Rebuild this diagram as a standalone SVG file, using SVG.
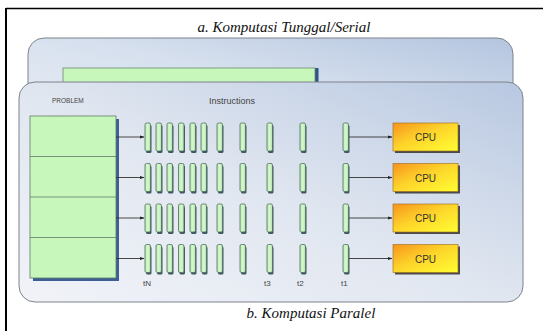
<svg xmlns="http://www.w3.org/2000/svg" xmlns:xlink="http://www.w3.org/1999/xlink" width="543" height="331" viewBox="0 0 543 331">
  <style>
    .title { font-family: "Liberation Serif", "Times New Roman", serif; font-style: italic; font-size: 15px; fill: #111; }
    .small { font-family: "Liberation Sans", Arial, sans-serif; fill: #444; }
    .cpu-text { font-family: "Liberation Sans", Arial, sans-serif; font-size: 10px; fill: #333; }
    .panel { stroke: #7d828c; stroke-width: 1; }
    .conn { stroke: #333; stroke-width: 0.9; fill: none; }
  </style>
  <defs>
    <linearGradient id="panelA" x1="0" y1="1" x2="1" y2="0">
      <stop offset="0" stop-color="#eef1f7"/>
      <stop offset="0.55" stop-color="#d6e0ee"/>
      <stop offset="1" stop-color="#b4c5df"/>
    </linearGradient>
    <linearGradient id="panelB" x1="0" y1="1" x2="1" y2="0">
      <stop offset="0" stop-color="#f1f3f8"/>
      <stop offset="0.5" stop-color="#e0e6f0"/>
      <stop offset="1" stop-color="#b8c8e1"/>
    </linearGradient>
    <linearGradient id="cpuFill" x1="0" y1="0" x2="1" y2="1">
      <stop offset="0" stop-color="#f7941d"/>
      <stop offset="0.45" stop-color="#fdd32a"/>
      <stop offset="1" stop-color="#ffff33"/>
    </linearGradient>
    <linearGradient id="barFill" x1="0" y1="0" x2="1" y2="0">
      <stop offset="0" stop-color="#b9eab0"/>
      <stop offset="0.5" stop-color="#d8f8d0"/>
      <stop offset="1" stop-color="#b2e2a8"/>
    </linearGradient>
    <marker id="arrow" viewBox="0 0 10 10" refX="9" refY="5" markerWidth="5" markerHeight="5" orient="auto" markerUnits="userSpaceOnUse">
      <path d="M0,1.5 L10,5 L0,8.5 z" fill="#222"/>
    </marker>
    <!-- one instruction slot -->
    <g id="bar">
      <rect x="1" y="2" width="5.5" height="28" rx="1.5" fill="#3e5763"/>
      <rect x="0" y="0" width="5.5" height="28" rx="1.5" fill="url(#barFill)" stroke="#4d6e5e" stroke-width="0.8"/>
    </g>
    <!-- one processor -->
    <g id="cpu">
      <rect x="2" y="2" width="65" height="28" fill="#4a4a4a"/>
      <rect x="0" y="0" width="65" height="28" fill="url(#cpuFill)" stroke="#9a6a20" stroke-width="0.6"/>
      <text class="cpu-text" x="32.5" y="18" text-anchor="middle">CPU</text>
    </g>
  </defs>

  <rect x="0" y="0" width="543" height="331" fill="#ffffff"/>
  <!-- frame -->
  <line x1="6" y1="8.5" x2="543" y2="8.5" stroke="#000" stroke-width="1.6"/>
  <line x1="6" y1="8" x2="6" y2="331" stroke="#000" stroke-width="2"/>

  <!-- serial panel (behind) -->
  <g id="panel-serial">
    <text class="title" x="284" y="32" text-anchor="middle">a. Komputasi Tunggal/Serial</text>
    <rect class="panel" x="28" y="38" width="485" height="110" rx="16" fill="url(#panelA)"/>
    <rect x="315" y="68" width="3.5" height="16" fill="#2f5488"/>
    <rect x="63" y="68" width="252" height="16" fill="#c8f7bc" stroke="#6a8b70" stroke-width="0.8"/>
  </g>

  <!-- parallel panel -->
  <g id="panel-parallel">
    <rect class="panel" x="19" y="82" width="504" height="220" rx="16" fill="url(#panelB)"/>
    <text class="small" x="52" y="103" font-size="6.5">PROBLEM</text>
    <text class="small" x="209" y="104" font-size="9">Instructions</text>
    <text class="title" x="311" y="318" text-anchor="middle">b. Komputasi Paralel</text>
  </g>

  <g id="problem">
    <rect x="33" y="119" width="86" height="162" fill="#3c5f95"/>
    <rect x="30" y="116" width="86" height="162" fill="#c8f7bc" stroke="#5f7a68" stroke-width="0.8"/>
    <line x1="30" y1="156.5" x2="116" y2="156.5" stroke="#5f7a68" stroke-width="0.8"/>
    <line x1="30" y1="197" x2="116" y2="197" stroke="#5f7a68" stroke-width="0.8"/>
    <line x1="30" y1="237.5" x2="116" y2="237.5" stroke="#5f7a68" stroke-width="0.8"/>
  </g>

  <g id="stream-1" transform="translate(0,123)">
    <use xlink:href="#bar" x="145"/><use xlink:href="#bar" x="156"/><use xlink:href="#bar" x="167"/>
    <use xlink:href="#bar" x="178.5"/><use xlink:href="#bar" x="190"/><use xlink:href="#bar" x="201"/>
    <use xlink:href="#bar" x="217"/><use xlink:href="#bar" x="240"/><use xlink:href="#bar" x="267"/>
    <use xlink:href="#bar" x="300"/><use xlink:href="#bar" x="343"/>
  </g>
  <g id="stream-2" transform="translate(0,163.5)">
    <use xlink:href="#bar" x="145"/><use xlink:href="#bar" x="156"/><use xlink:href="#bar" x="167"/>
    <use xlink:href="#bar" x="178.5"/><use xlink:href="#bar" x="190"/><use xlink:href="#bar" x="201"/>
    <use xlink:href="#bar" x="217"/><use xlink:href="#bar" x="240"/><use xlink:href="#bar" x="267"/>
    <use xlink:href="#bar" x="300"/><use xlink:href="#bar" x="343"/>
  </g>
  <g id="stream-3" transform="translate(0,204)">
    <use xlink:href="#bar" x="145"/><use xlink:href="#bar" x="156"/><use xlink:href="#bar" x="167"/>
    <use xlink:href="#bar" x="178.5"/><use xlink:href="#bar" x="190"/><use xlink:href="#bar" x="201"/>
    <use xlink:href="#bar" x="217"/><use xlink:href="#bar" x="240"/><use xlink:href="#bar" x="267"/>
    <use xlink:href="#bar" x="300"/><use xlink:href="#bar" x="343"/>
  </g>
  <g id="stream-4" transform="translate(0,244.5)">
    <use xlink:href="#bar" x="145"/><use xlink:href="#bar" x="156"/><use xlink:href="#bar" x="167"/>
    <use xlink:href="#bar" x="178.5"/><use xlink:href="#bar" x="190"/><use xlink:href="#bar" x="201"/>
    <use xlink:href="#bar" x="217"/><use xlink:href="#bar" x="240"/><use xlink:href="#bar" x="267"/>
    <use xlink:href="#bar" x="300"/><use xlink:href="#bar" x="343"/>
  </g>

  <g id="time-labels" class="small" font-size="8">
    <text x="143" y="286">tN</text>
    <text x="264" y="286">t3</text>
    <text x="297" y="286">t2</text>
    <text x="341" y="286">t1</text>
  </g>

  <g id="cpu-1"><use xlink:href="#cpu" x="393" y="123"/></g>
  <g id="cpu-2"><use xlink:href="#cpu" x="393" y="163.5"/></g>
  <g id="cpu-3"><use xlink:href="#cpu" x="393" y="204"/></g>
  <g id="cpu-4"><use xlink:href="#cpu" x="393" y="244.5"/></g>

  <g id="connectors">
    <line class="conn" x1="116" y1="137" x2="144" y2="137" marker-end="url(#arrow)"/>
    <line class="conn" x1="116" y1="177.5" x2="144" y2="177.5" marker-end="url(#arrow)"/>
    <line class="conn" x1="116" y1="218" x2="144" y2="218" marker-end="url(#arrow)"/>
    <line class="conn" x1="116" y1="258.5" x2="144" y2="258.5" marker-end="url(#arrow)"/>
    <line class="conn" x1="349" y1="137" x2="392" y2="137" marker-end="url(#arrow)"/>
    <line class="conn" x1="349" y1="177.5" x2="392" y2="177.5" marker-end="url(#arrow)"/>
    <line class="conn" x1="349" y1="218" x2="392" y2="218" marker-end="url(#arrow)"/>
    <line class="conn" x1="349" y1="258.5" x2="392" y2="258.5" marker-end="url(#arrow)"/>
  </g>
</svg>
